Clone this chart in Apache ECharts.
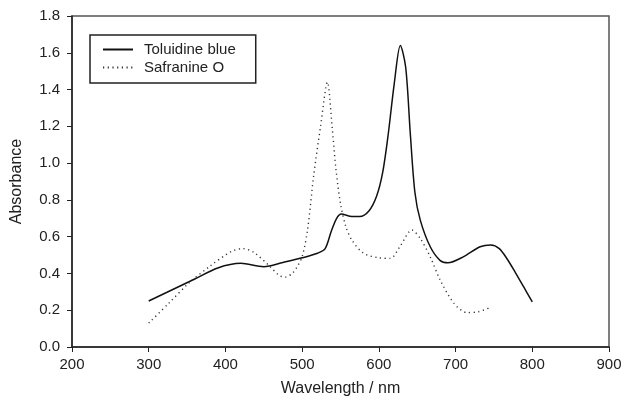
<!DOCTYPE html>
<html>
<head>
<meta charset="utf-8">
<script src="https://cdn.jsdelivr.net/npm/echarts@6/dist/echarts.min.js"></script>
<style>
  html, body { margin: 0; padding: 0; background: #fff; }
  #chart { width: 625px; height: 406px; }
</style>
</head>
<body>
<div id="chart"></div>
<script>
// Toluidine blue spectrum
const tbWavelength = [300, 330, 360, 390, 420, 450, 475, 500, 520, 530, 538, 545, 551, 565, 575, 587, 597, 605, 612, 620, 628, 635, 641, 647, 654, 667, 680, 690, 710, 732, 746, 757, 767, 778, 789, 800]
const tbAbs = [0.25, 0.31, 0.37, 0.43, 0.455, 0.437, 0.46, 0.485, 0.51, 0.535, 0.63, 0.70, 0.723, 0.71, 0.71, 0.74, 0.82, 0.95, 1.15, 1.43, 1.64, 1.52, 1.16, 0.84, 0.69, 0.545, 0.47, 0.458, 0.49, 0.545, 0.555, 0.535, 0.48, 0.405, 0.325, 0.245]

// Safranine O spectrum
const soWavelength = [300, 326, 352, 380, 408, 423, 437, 456, 470, 478, 487, 494, 500, 507, 515, 524, 533, 539, 544, 550, 557, 565, 580, 600, 615, 628, 643, 654, 667, 680, 698, 715, 730, 746]
const soAbs = [0.13, 0.237, 0.346, 0.44, 0.52, 0.535, 0.515, 0.446, 0.39, 0.38, 0.40, 0.44, 0.49, 0.636, 0.93, 1.20, 1.44, 1.20, 0.97, 0.78, 0.654, 0.58, 0.51, 0.485, 0.482, 0.55, 0.636, 0.59, 0.49, 0.364, 0.237, 0.187, 0.192, 0.216]

const xTicks = [200, 300, 400, 500, 600, 700, 800, 900]
const yTicks = [0.0, 0.2, 0.4, 0.6, 0.8, 1.0, 1.2, 1.4, 1.6, 1.8]

const font = 'Liberation Sans, Arial, sans-serif'
const myChart = echarts.init(document.getElementById('chart'))

const toPairs = (xs, ys) => xs.map((x, i) => [x, ys[i]])

const option = {
  animation: false,
  grid: {
    left: 72,
    right: 16,
    top: 16,
    bottom: 59,
    show: true,
    borderColor: '#555',
    borderWidth: 1.5
  },
  legend: {
    orient: 'vertical',
    left: 90,
    top: 35,
    padding: [7, 20, 8, 12],
    borderColor: '#222',
    borderWidth: 1.5,
    itemWidth: 30,
    itemHeight: 14,
    itemGap: 3,
    itemStyle: { opacity: 0 },
    textStyle: { fontFamily: font, fontSize: 15, color: '#222', padding: [0, 0, 0, 6] },
    data: ['Toluidine blue', 'Safranine O']
  },
  xAxis: {
    type: 'value',
    min: xTicks[0],
    max: xTicks[xTicks.length - 1],
    interval: 100,
    name: 'Wavelength / nm',
    nameLocation: 'middle',
    nameGap: 34,
    nameTextStyle: { fontFamily: font, fontSize: 16, color: '#222' },
    axisLine: { lineStyle: { color: '#222', width: 1.5 } },
    axisTick: { inside: false, length: 5, lineStyle: { color: '#222' } },
    axisLabel: { fontFamily: font, fontSize: 15, color: '#222', margin: 10 },
    splitLine: { show: false }
  },
  yAxis: {
    type: 'value',
    min: yTicks[0],
    max: yTicks[yTicks.length - 1],
    interval: 0.2,
    name: 'Absorbance',
    nameLocation: 'middle',
    nameGap: 47,
    nameTextStyle: { fontFamily: font, fontSize: 16, color: '#222' },
    axisLine: { show: true, lineStyle: { color: '#222', width: 1.5 } },
    axisTick: { show: true, length: 5, lineStyle: { color: '#222' } },
    axisLabel: { fontFamily: font, fontSize: 15, color: '#222', margin: 12, formatter: v => v.toFixed(1) },
    splitLine: { show: false }
  },
  series: [
    {
      name: 'Toluidine blue',
      type: 'line',
      smooth: 0.3,
      symbol: 'none',
      lineStyle: { color: '#111', width: 1.5 },
      itemStyle: { color: '#111' },
      data: toPairs(tbWavelength, tbAbs)
    },
    {
      name: 'Safranine O',
      type: 'line',
      smooth: 0.3,
      symbol: 'none',
      lineStyle: { color: '#333', width: 1.4, type: [1.2, 3.5] },
      itemStyle: { color: '#333' },
      data: toPairs(soWavelength, soAbs)
    }
  ]
}

myChart.setOption(option)
</script>
</body>
</html>
